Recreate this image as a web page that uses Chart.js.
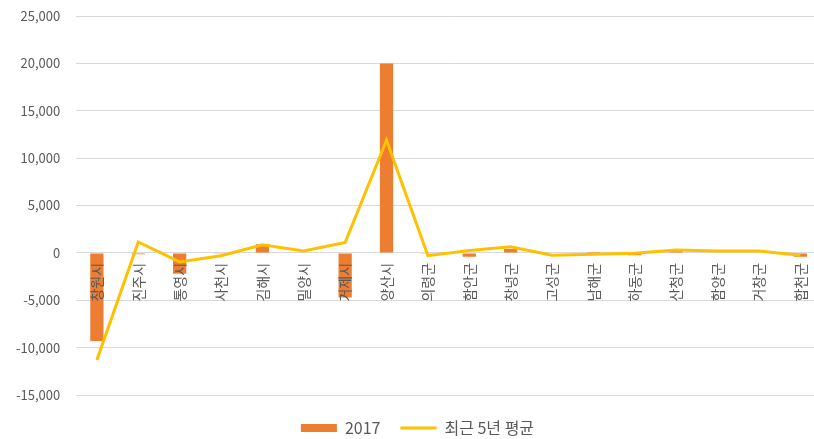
<!DOCTYPE html>
<html>
<head>
<meta charset="utf-8">
<script src="https://cdn.jsdelivr.net/npm/chart.js@4.4.1/dist/chart.umd.min.js"></script>
<style>
  html, body { margin: 0; padding: 0; background: #fff; overflow: hidden; }
  #clip { width: 814px; height: 439px; overflow: hidden; }
  /* plot area runs past the right edge in the original, so the canvas is a bit wider */
  #wrap { width: 821px; height: 439px; }
</style>
</head>
<body>
<div id="clip"><div id="wrap"><canvas id="chart"></canvas></div></div>
<script>
const regions = ['창원시', '진주시', '통영시', '사천시', '김해시', '밀양시', '거제시', '양산시', '의령군',
  '함안군', '창녕군', '고성군', '남해군', '하동군', '산청군', '함양군', '거창군', '합천군'];
const values2017 = [-9300, -150, -2200, -100, 900, 50, -4700, 20000, -100,
  -400, 400, 0, 100, -250, 400, 50, 0, -400];
const avg5yr = [-11300, 1150, -950, -300, 850, 200, 1100, 11900, -300,
  250, 650, -250, -150, -50, 300, 200, 200, -250];
const yTicks = { min: -15000, max: 25000, step: 5000 };

const fontFamily = '"Noto Sans CJK KR", "Noto Sans", sans-serif';
const textColor = '#595959';

// nudge the legend a little to the right, like the original
const legendShift = {
  id: 'legendShift',
  afterLayout(chart) {
    chart.legend.left += 7;
    chart.legend.right += 7;
  }
};

new Chart(document.getElementById('chart').getContext('2d'), {
  type: 'bar',
  data: {
    labels: regions,
    datasets: [{
      label: '2017',
      data: values2017,
      backgroundColor: '#ED7D31',
      borderWidth: 0,
      barPercentage: 0.32,
      categoryPercentage: 1,
      pointStyle: 'rect',
      order: 1
    }, {
      type: 'line',
      label: '최근 5년 평균',
      data: avg5yr,
      borderColor: '#FFC000',
      backgroundColor: '#FFC000',
      borderWidth: 3,
      pointRadius: 0,
      pointHoverRadius: 0,
      pointStyle: 'line',
      tension: 0,
      fill: false,
      order: 0
    }]
  },
  options: {
    responsive: true,
    maintainAspectRatio: false,
    animation: false,
    layout: { padding: { left: 0, right: 0, top: -2, bottom: -7 } },
    plugins: {
      tooltip: { enabled: false },
      legend: {
        position: 'bottom',
        title: { display: true, text: '', font: { size: 1 }, padding: { top: 3.8, bottom: 0 } },
        labels: {
          usePointStyle: true,
          pointStyleWidth: 36,
          boxHeight: 8,
          padding: 20,
          color: textColor,
          font: { family: fontFamily, size: 16 },
          sort: (a, b) => a.datasetIndex - b.datasetIndex
        }
      }
    },
    scales: {
      x: {
        position: { y: 0 },
        grid: { display: false, drawTicks: false },
        border: { display: false },
        afterFit: s => { s.paddingLeft = 0; s.paddingRight = 0; },
        ticks: {
          z: 1,
          autoSkip: false,
          maxRotation: 90,
          minRotation: 90,
          padding: 10,
          color: textColor,
          font: { family: fontFamily, size: 14 }
        }
      },
      y: {
        min: yTicks.min,
        max: yTicks.max,
        grid: { color: '#D9D9D9', drawTicks: false },
        border: { display: false },
        afterFit: s => { s.paddingTop = 16; },
        ticks: {
          stepSize: yTicks.step,
          padding: 16,
          color: textColor,
          font: { family: fontFamily, size: 13 },
          callback: v => v.toLocaleString('en-US')
        }
      }
    }
  },
  plugins: [legendShift]
});
</script>
</body>
</html>
